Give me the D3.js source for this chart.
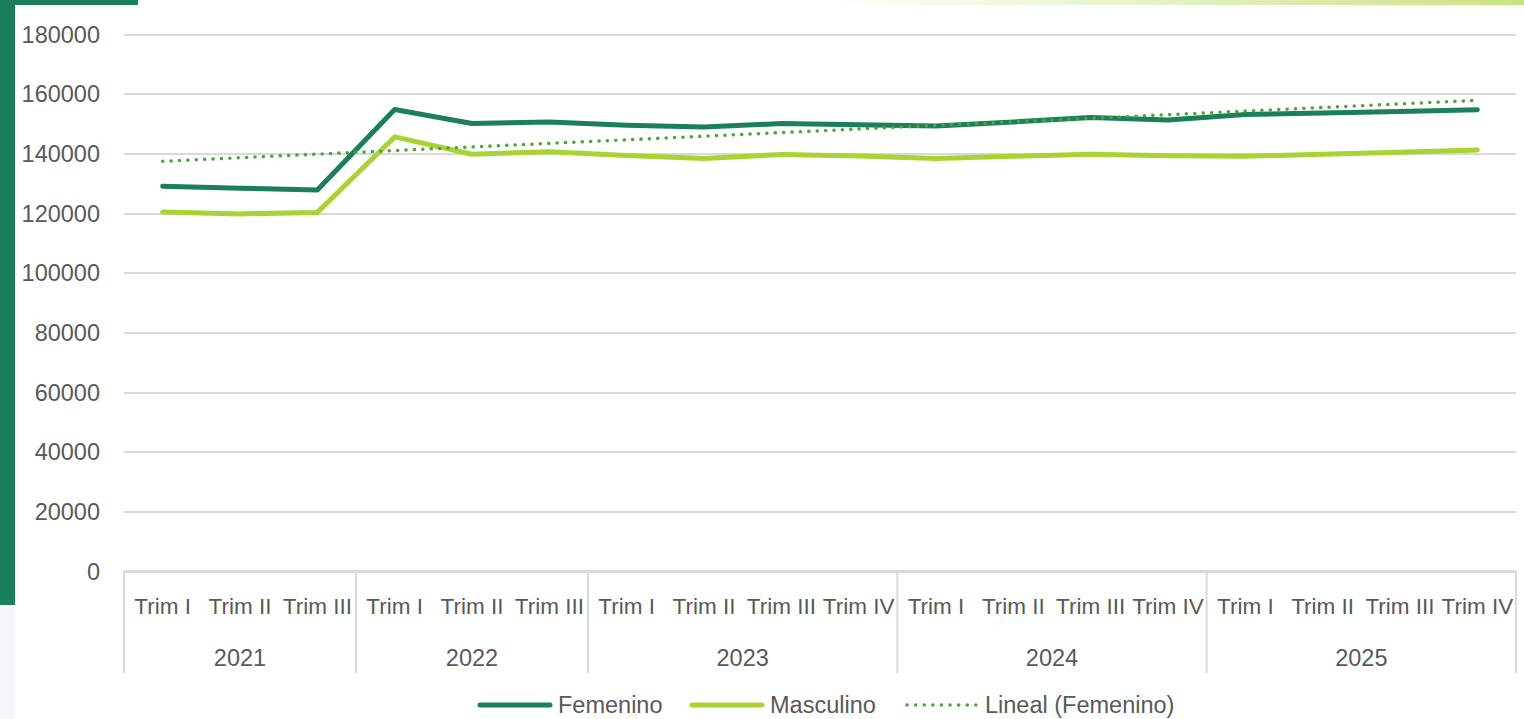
<!DOCTYPE html>
<html><head><meta charset="utf-8">
<script src="https://cdn.jsdelivr.net/npm/d3@7/dist/d3.min.js"></script>
<style>html,body{margin:0;padding:0;background:#fff;overflow:hidden}</style>
</head><body>
<svg id="chart" width="1524" height="719"></svg>
<script>
const years = ["2021","2022","2023","2024","2025"];
const quarters = [
  ["Trim I","Trim II","Trim III"],
  ["Trim I","Trim II","Trim III"],
  ["Trim I","Trim II","Trim III","Trim IV"],
  ["Trim I","Trim II","Trim III","Trim IV"],
  ["Trim I","Trim II","Trim III","Trim IV"]
];
const femenino = [129000,128300,127700, 154700,150000,150500, 149400,148800,150000,149600, 149200,150500,152000,151200, 153000,153500,154000,154600];
const masculino = [120300,119700,120200, 145500,139700,140500, 139300,138300,139600,139100, 138300,139000,139700,139200, 139000,139700,140400,141100];
const yTicks = [0,20000,40000,60000,80000,100000,120000,140000,160000,180000];

const cats = [];
years.forEach((y,i)=>quarters[i].forEach((q,j)=>cats.push({key:y+"-"+j, year:y, q:q})));

const svg = d3.select("#chart");
const font = "'Liberation Sans', Arial, sans-serif";
const textCol = "#595959";
const gridCol = "#d9d9d9";

// decorations
const defs = svg.append("defs");
const grad = defs.append("linearGradient").attr("id","topg").attr("x1","0").attr("x2","1");
grad.append("stop").attr("offset","0").attr("stop-color","#c8e384").attr("stop-opacity",0);
grad.append("stop").attr("offset","1").attr("stop-color","#c8e384").attr("stop-opacity",1);
svg.append("rect").attr("x",830).attr("y",0).attr("width",694).attr("height",5).attr("fill","url(#topg)");
svg.append("rect").attr("x",0).attr("y",0).attr("width",15).attr("height",605).attr("fill","#1a7f5a");
svg.append("rect").attr("x",0).attr("y",605).attr("width",15).attr("height",114).attr("fill","#f8f6fc");
svg.append("rect").attr("x",15).attr("y",0).attr("width",123).attr("height",5).attr("fill","#1a7f5a");

const x0 = 124, x1 = 1516, yTop = 34, yBot = 571;
const x = d3.scaleBand().domain(cats.map(c=>c.key)).range([x0,x1]);
const y = d3.scaleLinear().domain([0,180000]).range([yBot,yTop]);

// grid
const gy = svg.append("g").attr("transform",`translate(${x0},0)`)
  .call(d3.axisLeft(y).tickValues(yTicks).tickSize(-(x1-x0)).tickPadding(24).tickFormat(d=>String(d)));
gy.select(".domain").remove();
gy.selectAll(".tick line").attr("stroke",gridCol).attr("stroke-width",2).attr("shape-rendering","crispEdges");
gy.selectAll(".tick text").attr("fill",textCol).attr("font-family",font).attr("font-size",23.5).attr("dy","0.35em");

// category axis
svg.append("line").attr("x1",x0).attr("x2",x1).attr("y1",yBot).attr("y2",yBot).attr("stroke",gridCol).attr("stroke-width",2);
const xa = svg.append("g").attr("transform",`translate(0,${yBot})`)
  .call(d3.axisBottom(x).tickSize(0).tickPadding(0).tickFormat(k=>cats.find(c=>c.key===k).q));
xa.select(".domain").remove();
xa.selectAll(".tick text").attr("fill",textCol).attr("font-family",font).attr("font-size",22.5)
  .attr("y",35).attr("dy","0.35em");

// year groups
let idx = 0;
const bounds = [x0];
years.forEach((yr,i)=>{
  const first = cats[idx].key; idx += quarters[i].length;
  const last = cats[idx-1].key;
  const a = x(first), b = x(last)+x.bandwidth();
  bounds.push(b);
  svg.append("text").attr("x",(a+b)/2).attr("y",658).attr("dy","0.35em").attr("text-anchor","middle")
    .attr("fill",textCol).attr("font-family",font).attr("font-size",23.5).text(yr);
});
bounds.forEach(b=>svg.append("line").attr("x1",b).attr("x2",b).attr("y1",yBot).attr("y2",673)
  .attr("stroke",gridCol).attr("stroke-width",2));

// trend (linear regression of femenino)
const n = femenino.length;
const mx = d3.mean(d3.range(n)), my = d3.mean(femenino);
const slope = d3.sum(femenino.map((v,i)=>(i-mx)*(v-my)))/d3.sum(d3.range(n).map(i=>(i-mx)*(i-mx)));
const inter = my - slope*mx;
const trend = d3.range(n).map(i=>inter+slope*i);

const cx = i => x(cats[i].key)+x.bandwidth()/2;
const line = d3.line().x((d,i)=>cx(i)).y(d=>y(d));

svg.append("path").datum(masculino).attr("d",line).attr("fill","none").attr("stroke","#a8d332")
  .attr("stroke-width",5).attr("stroke-linejoin","round").attr("stroke-linecap","round");
svg.append("path").datum(femenino).attr("d",line).attr("fill","none").attr("stroke","#1b7f5b")
  .attr("stroke-width",5).attr("stroke-linejoin","round").attr("stroke-linecap","round");
svg.append("path").datum([trend[0],trend[n-1]]).attr("d",d3.line().x((d,i)=>cx(i*(n-1))).y(d=>y(d)))
  .attr("fill","none").attr("stroke","#4aa832").attr("stroke-width",3.5)
  .attr("stroke-linecap","round").attr("stroke-dasharray","0.1 8.3");

// legend
const leg = [
  {name:"Femenino", color:"#1b7f5b", x:480, dash:null, w:5},
  {name:"Masculino", color:"#a8d332", x:692, dash:null, w:5},
  {name:"Lineal (Femenino)", color:"#4aa832", x:907, dash:"0.1 8.5", w:3.5}
];
leg.forEach(l=>{
  svg.append("line").attr("x1",l.x).attr("x2",l.x+70).attr("y1",705).attr("y2",705)
    .attr("stroke",l.color).attr("stroke-width",l.w).attr("stroke-linecap","round")
    .attr("stroke-dasharray",l.dash);
  svg.append("text").attr("x",l.x+78).attr("y",705).attr("dy","0.35em").attr("fill",textCol)
    .attr("font-family",font).attr("font-size",23.5).text(l.name);
});
</script>
</body></html>
